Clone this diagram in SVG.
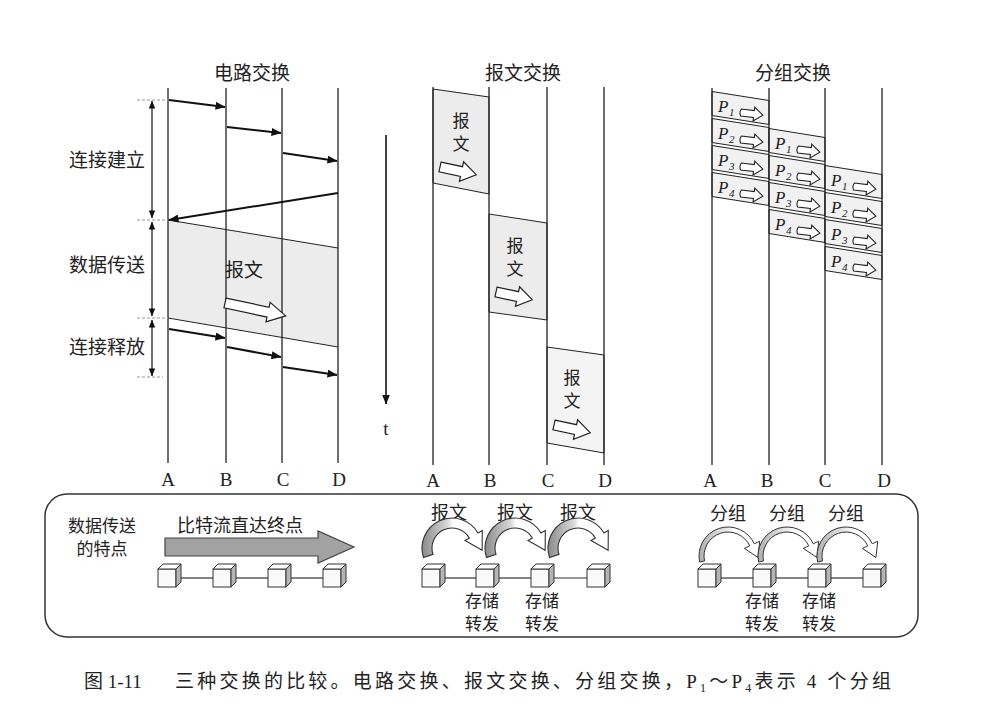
<svg xmlns="http://www.w3.org/2000/svg" width="990" height="715" viewBox="0 0 990 715">
<defs>
<style>
.cn{font-family:"Noto Sans CJK SC",sans-serif;font-size:19px;fill:#222}
.cs{font-family:"Noto Sans CJK SC",sans-serif;font-size:18px;fill:#222}
.cv{font-family:"Noto Sans CJK SC",sans-serif;font-size:17px;fill:#222}
.sf{font-family:"Liberation Serif","Times New Roman",serif;font-size:19px;fill:#222}
.tl{stroke:#222;stroke-width:1.3;fill:none}
.thick{stroke:#111;stroke-width:2;fill:none;marker-end:url(#ah)}
.thin{stroke:#222;stroke-width:1;fill:none}
.brk{stroke:#222;stroke-width:1.3;fill:none;marker-start:url(#ah2);marker-end:url(#ah2)}
.dash{stroke:#999;stroke-width:1;stroke-dasharray:3 2;fill:none}
.shade{fill:#ececec}
.hol{fill:#fff;stroke:#222;stroke-width:1.2}
.pk{fill:#f1f1f1;stroke:#222;stroke-width:1}
.pt{font-family:"Liberation Serif",serif;font-style:italic;font-size:17px;fill:#222}
.ps{font-family:"Liberation Serif",serif;font-style:italic;font-size:11px;fill:#222}
.cf{fill:#fafafa;stroke:#333;stroke-width:1}
.ct{fill:#fff;stroke:#333;stroke-width:1}
.cside{fill:#b5b5b5;stroke:#333;stroke-width:1}
.link{stroke:#333;stroke-width:1.2}
.big{fill:url(#arcg);stroke:#333;stroke-width:1.1}
.small{fill:url(#arcg2);stroke:#333;stroke-width:1}
</style>
<marker id="ah" viewBox="0 0 10 8" refX="9.5" refY="4" markerWidth="10" markerHeight="8" markerUnits="userSpaceOnUse" orient="auto"><path d="M0,0 L10,4 L0,8 z" fill="#111"/></marker>
<marker id="ah2" viewBox="0 0 10 8" refX="9.5" refY="4" markerWidth="8" markerHeight="7" markerUnits="userSpaceOnUse" orient="auto-start-reverse"><path d="M0,0 L10,4 L0,8 z" fill="#111"/></marker>
<linearGradient id="arcg" x1="0" y1="0" x2="1" y2="0"><stop offset="0" stop-color="#8a8a8a"/><stop offset="0.42" stop-color="#d8d8d8"/><stop offset="0.52" stop-color="#fff"/><stop offset="1" stop-color="#fff"/></linearGradient>
<linearGradient id="arcg2" x1="0" y1="0" x2="1" y2="0"><stop offset="0" stop-color="#b0b0b0"/><stop offset="0.45" stop-color="#e6e6e6"/><stop offset="0.6" stop-color="#fff"/><stop offset="1" stop-color="#fff"/></linearGradient>
<path id="parr" d="M0,-3.5 Q-2,0 0,3.5 L13,3.5 L13,7 L22,0 L13,-7 L13,-3.5 Z" fill="#fff" stroke="#222" stroke-width="1.1"/>
<g id="cube"><rect class="cf" x="0" y="0" width="18" height="18"/><polygon class="ct" points="0,0 5,-5 23,-5 18,0"/><polygon class="cside" points="18,0 23,-5 23,13 18,18"/></g>
<path id="barc" class="big" d="M-28.46,9.47 A30,30 0 0 1 25.98,-15 L30.31,-17.5 L30.15,2.22 L12.99,-7.5 L17.32,-10 A20,20 0 0 0 -18.98,6.31 Z"/>
<path id="sarc" class="small" d="M-28.37,6.03 A29,29 0 0 1 26.28,-12.26 L31.72,-14.79 L29.94,1.49 L16.31,-7.61 L21.75,-10.14 A24,24 0 0 0 -23.47,4.99 Z"/>
</defs>
<rect width="990" height="715" fill="#fff"/>

<!-- Circuit switching panel -->
<g id="circuit">
<polygon class="shade" points="168,220 338,248 338,347 168,318"/>
<text class="cn" x="252" y="80" text-anchor="middle">电路交换</text>
<line class="tl" x1="168" y1="88" x2="168" y2="463"/>
<line class="tl" x1="226" y1="88" x2="226" y2="463"/>
<line class="tl" x1="282" y1="88" x2="282" y2="463"/>
<line class="tl" x1="338" y1="88" x2="338" y2="463"/>
<text class="sf" x="168" y="486" text-anchor="middle">A</text>
<text class="sf" x="226" y="486" text-anchor="middle">B</text>
<text class="sf" x="283" y="486" text-anchor="middle">C</text>
<text class="sf" x="339" y="486" text-anchor="middle">D</text>
<line class="thin" x1="168" y1="220" x2="338" y2="248"/>
<line class="thin" x1="168" y1="318" x2="338" y2="347"/>
<text class="cn" x="244" y="277" text-anchor="middle">报文</text>
<path class="hol" transform="translate(225,303) rotate(12)" d="M0,-5 L44,-5 L44,-10 L62,0 L44,10 L44,5 L0,5 Z"/>
<line class="dash" x1="137" y1="100" x2="168" y2="100"/>
<line class="dash" x1="137" y1="220" x2="168" y2="220"/>
<line class="dash" x1="137" y1="318" x2="168" y2="318"/>
<line class="dash" x1="137" y1="377" x2="163" y2="377"/>
<text class="cn" x="107" y="167" text-anchor="middle">连接建立</text>
<text class="cn" x="107" y="272" text-anchor="middle">数据传送</text>
<text class="cn" x="107" y="354" text-anchor="middle">连接释放</text>
</g>

<!-- Message switching panel -->
<g id="message">
<text class="cn" x="523" y="80" text-anchor="middle">报文交换</text>
<polygon class="shade" points="433,89 489,97 489,194 433,183" stroke="#222" stroke-width="1"/>
<polygon class="shade" points="489,214 547,223 547,320 489,312" stroke="#222" stroke-width="1"/>
<polygon points="547,347 604,355 604,453 547,443" fill="#f4f4f4" stroke="#222" stroke-width="1"/>
<line class="tl" x1="433" y1="87" x2="433" y2="465"/>
<line class="tl" x1="489" y1="87" x2="489" y2="465"/>
<line class="tl" x1="547" y1="87" x2="547" y2="465"/>
<line class="tl" x1="604" y1="87" x2="604" y2="465"/>
<text class="cv" x="461" y="127" text-anchor="middle">报</text>
<text class="cv" x="461" y="150" text-anchor="middle">文</text>
<text class="cv" x="515" y="252" text-anchor="middle">报</text>
<text class="cv" x="515" y="275" text-anchor="middle">文</text>
<text class="cv" x="572" y="384" text-anchor="middle">报</text>
<text class="cv" x="572" y="407" text-anchor="middle">文</text>
<path class="hol" transform="translate(440,167) rotate(12)" d="M0,-5 L22,-5 L22,-10 L37,0 L22,10 L22,5 L0,5 Z"/>
<path class="hol" transform="translate(496,292) rotate(12)" d="M0,-5 L22,-5 L22,-10 L37,0 L22,10 L22,5 L0,5 Z"/>
<path class="hol" transform="translate(554,425) rotate(12)" d="M0,-5 L22,-5 L22,-10 L37,0 L22,10 L22,5 L0,5 Z"/>
<text class="sf" x="433" y="487" text-anchor="middle">A</text>
<text class="sf" x="490" y="487" text-anchor="middle">B</text>
<text class="sf" x="548" y="487" text-anchor="middle">C</text>
<text class="sf" x="605" y="487" text-anchor="middle">D</text>
<text class="sf" x="386" y="435" text-anchor="middle" font-size="18">t</text>
</g>

<!-- Packet switching panel -->
<g id="packet">
<text class="cn" x="793" y="80" text-anchor="middle">分组交换</text>
<polygon class="pk" points="712,91.5 769,100.5 769,124.5 712,115.5"/>
<polygon class="pk" points="712,118.5 769,127.5 769,151.5 712,142.5"/>
<polygon class="pk" points="712,145.5 769,154.5 769,178.5 712,169.5"/>
<polygon class="pk" points="712,172.5 769,181.5 769,205.5 712,196.5"/>
<polygon class="pk" points="769,128.5 825,137.5 825,161.5 769,152.5"/>
<polygon class="pk" points="769,155.5 825,164.5 825,188.5 769,179.5"/>
<polygon class="pk" points="769,182.5 825,191.5 825,215.5 769,206.5"/>
<polygon class="pk" points="769,209.5 825,218.5 825,242.5 769,233.5"/>
<polygon class="pk" points="825,165.5 882,174.5 882,198.5 825,189.5"/>
<polygon class="pk" points="825,192.5 882,201.5 882,225.5 825,216.5"/>
<polygon class="pk" points="825,219.5 882,228.5 882,252.5 825,243.5"/>
<polygon class="pk" points="825,246.5 882,255.5 882,279.5 825,270.5"/>
<line class="tl" x1="712" y1="88" x2="712" y2="465"/>
<line class="tl" x1="769" y1="88" x2="769" y2="465"/>
<line class="tl" x1="825" y1="88" x2="825" y2="465"/>
<line class="tl" x1="882" y1="88" x2="882" y2="465"/>
<!-- column A-B -->
<text class="pt" x="718" y="112">P</text><text class="ps" x="729" y="116">1</text><use href="#parr" transform="translate(741,112.5) rotate(7)"/>
<text class="pt" x="718" y="139">P</text><text class="ps" x="729" y="143">2</text><use href="#parr" transform="translate(741,139.5) rotate(7)"/>
<text class="pt" x="718" y="166">P</text><text class="ps" x="729" y="170">3</text><use href="#parr" transform="translate(741,166.5) rotate(7)"/>
<text class="pt" x="718" y="193">P</text><text class="ps" x="729" y="197">4</text><use href="#parr" transform="translate(741,193.5) rotate(7)"/>
<!-- column B-C -->
<text class="pt" x="775" y="149">P</text><text class="ps" x="786" y="153">1</text><use href="#parr" transform="translate(798,149.5) rotate(7)"/>
<text class="pt" x="775" y="176">P</text><text class="ps" x="786" y="180">2</text><use href="#parr" transform="translate(798,176.5) rotate(7)"/>
<text class="pt" x="775" y="203">P</text><text class="ps" x="786" y="207">3</text><use href="#parr" transform="translate(798,203.5) rotate(7)"/>
<text class="pt" x="775" y="230">P</text><text class="ps" x="786" y="234">4</text><use href="#parr" transform="translate(798,230.5) rotate(7)"/>
<!-- column C-D -->
<text class="pt" x="831" y="186">P</text><text class="ps" x="842" y="190">1</text><use href="#parr" transform="translate(854,186.5) rotate(7)"/>
<text class="pt" x="831" y="213">P</text><text class="ps" x="842" y="217">2</text><use href="#parr" transform="translate(854,213.5) rotate(7)"/>
<text class="pt" x="831" y="240">P</text><text class="ps" x="842" y="244">3</text><use href="#parr" transform="translate(854,240.5) rotate(7)"/>
<text class="pt" x="831" y="267">P</text><text class="ps" x="842" y="271">4</text><use href="#parr" transform="translate(854,267.5) rotate(7)"/>
<text class="sf" x="710" y="487" text-anchor="middle">A</text>
<text class="sf" x="767" y="487" text-anchor="middle">B</text>
<text class="sf" x="825" y="487" text-anchor="middle">C</text>
<text class="sf" x="884" y="487" text-anchor="middle">D</text>
</g>

<!-- Connectors -->
<g id="connectors">
<line class="thick" x1="169" y1="100" x2="225" y2="107"/>
<line class="thick" x1="227" y1="127" x2="281" y2="133"/>
<line class="thick" x1="283" y1="153" x2="337" y2="161"/>
<line class="thick" x1="338" y1="193" x2="169" y2="220"/>
<line class="thick" x1="169" y1="329" x2="225" y2="338"/>
<line class="thick" x1="227" y1="347" x2="281" y2="357"/>
<line class="thick" x1="283" y1="367" x2="337" y2="375"/>
<line class="brk" x1="152" y1="101" x2="152" y2="218"/>
<line class="brk" x1="152" y1="222" x2="152" y2="316"/>
<line class="brk" x1="152" y1="320" x2="152" y2="376"/>
<line x1="386" y1="135" x2="386" y2="404" stroke="#111" stroke-width="1.6" marker-end="url(#ah)"/>
</g>

<!-- Bottom comparison box -->
<g id="features">
<rect x="45" y="494" width="873" height="143" rx="22" ry="22" fill="none" stroke="#333" stroke-width="1.5"/>
<text class="cv" x="102" y="532" text-anchor="middle">数据传送</text>
<text class="cv" x="102" y="555" text-anchor="middle">的特点</text>
<text class="cs" x="240" y="532" text-anchor="middle">比特流直达终点</text>
<polygon points="165,538 318,538 318,531 354,547 318,563 318,556 165,556" fill="#a2a2a2" stroke="#444" stroke-width="1.2"/>
<line class="link" x1="181" y1="578" x2="213" y2="578"/>
<line class="link" x1="236" y1="578" x2="268" y2="578"/>
<line class="link" x1="291" y1="578" x2="323" y2="578"/>
<use href="#cube" x="158" y="569"/>
<use href="#cube" x="213" y="569"/>
<use href="#cube" x="268" y="569"/>
<use href="#cube" x="323" y="569"/>

<text class="cs" x="449" y="519" text-anchor="middle">报文</text>
<text class="cs" x="515" y="519" text-anchor="middle">报文</text>
<text class="cs" x="578" y="519" text-anchor="middle">报文</text>
<use href="#barc" transform="translate(452,548)"/>
<use href="#barc" transform="translate(515,548)"/>
<use href="#barc" transform="translate(578,548)"/>
<line class="link" x1="445" y1="578" x2="476" y2="578"/>
<line class="link" x1="499" y1="578" x2="531" y2="578"/>
<line class="link" x1="554" y1="578" x2="587" y2="578"/>
<use href="#cube" x="422" y="569"/>
<use href="#cube" x="476" y="569"/>
<use href="#cube" x="531" y="569"/>
<use href="#cube" x="587" y="569"/>
<text class="cv" x="482" y="607" text-anchor="middle">存储</text>
<text class="cv" x="482" y="630" text-anchor="middle">转发</text>
<text class="cv" x="542" y="607" text-anchor="middle">存储</text>
<text class="cv" x="542" y="630" text-anchor="middle">转发</text>

<text class="cs" x="728" y="520" text-anchor="middle">分组</text>
<text class="cs" x="787" y="520" text-anchor="middle">分组</text>
<text class="cs" x="846" y="520" text-anchor="middle">分组</text>
<use href="#sarc" transform="translate(728,556)"/>
<use href="#sarc" transform="translate(787,556)"/>
<use href="#sarc" transform="translate(846,556)"/>
<line class="link" x1="721" y1="578" x2="753" y2="578"/>
<line class="link" x1="776" y1="578" x2="808" y2="578"/>
<line class="link" x1="831" y1="578" x2="863" y2="578"/>
<use href="#cube" x="698" y="569"/>
<use href="#cube" x="753" y="569"/>
<use href="#cube" x="808" y="569"/>
<use href="#cube" x="863" y="569"/>
<text class="cv" x="762" y="607" text-anchor="middle">存储</text>
<text class="cv" x="762" y="630" text-anchor="middle">转发</text>
<text class="cv" x="819" y="607" text-anchor="middle">存储</text>
<text class="cv" x="819" y="630" text-anchor="middle">转发</text>
</g>

<!-- Caption -->
<g id="caption" font-family="Liberation Serif, Noto Sans CJK SC, serif" font-size="19" fill="#222">
<text x="84" y="688">图 1-11</text>
<text x="175" y="688" textLength="716" lengthAdjust="spacing">三种交换的比较。电路交换、报文交换、分组交换，P<tspan dy="4" font-size="12">1</tspan><tspan dy="-4">～P</tspan><tspan dy="4" font-size="12">4</tspan><tspan dy="-4">表示 4 个分组</tspan></text>
</g>
</svg>
